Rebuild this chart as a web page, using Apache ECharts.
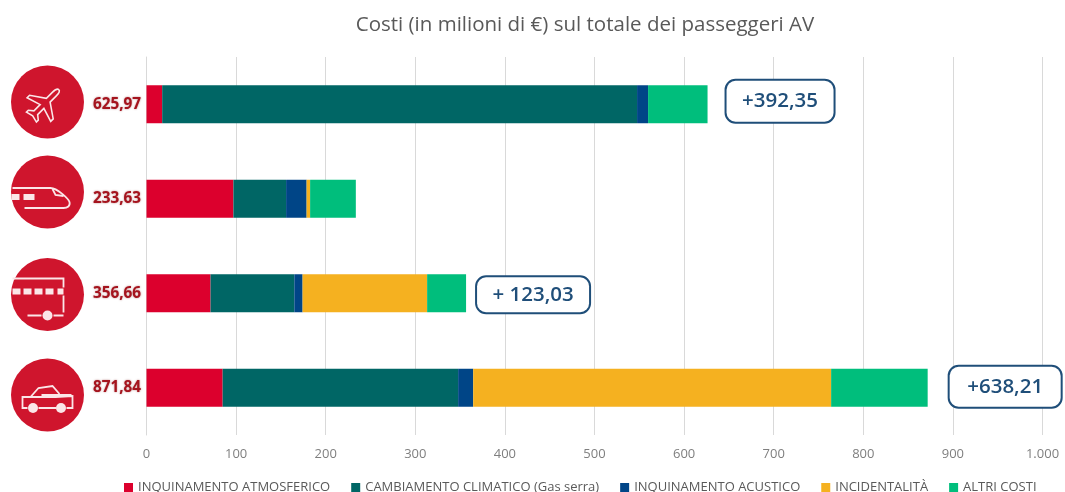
<!DOCTYPE html>
<html>
<head>
<meta charset="utf-8">
<title>Costi sul totale dei passeggeri AV</title>
<script src="https://cdn.jsdelivr.net/npm/echarts@6/dist/echarts.min.js"></script>
<style>
  html, body { margin: 0; padding: 0; background: #fff; }
  #chart { width: 1065px; height: 492px; }
</style>
</head>
<body>
<div id="chart"></div>
<script>
// order top to bottom: aereo, treno, bus, auto
const totals = ["625,97", "233,63", "356,66", "871,84"];
const atmosferico = [17.5, 97, 71.5, 85];
const climatico = [530, 58.8, 93.5, 262.8];
const acustico = [12.3, 22.9, 9.2, 16.8];
const incidentalita = [0, 3.9, 139, 399.5];
const altriCosti = [66.37, 51.03, 43.46, 107.74];
const differenze = ["+392,35", "", "+ 123,03", "+638,21"];
const xTicks = ["0", "100", "200", "300", "400", "500", "600", "700", "800", "900", "1.000"];

const font = '"Open Sans", sans-serif';
// callout boxes are hand placed in the original, so each one gets its own layout
const calloutLayout = [
  { distance: 72.5, width: 107, height: 41, offset: [0, -3] },
  null,
  { distance: 67, width: 112, height: 35, offset: [0, 1.5] },
  { distance: 77.5, width: 111, height: 40, offset: [0, -1] }
];

// white line icons, drawn around the middle of each red circle
const planeIcon = "M0,-23 C2,-23 3,-20 3,-16 L3,-6 L19,5 L19,9 L3,4 L3,14 L8,18 L8,21 L0,19 L-8,21 L-8,18 L-3,14 L-3,4 L-19,9 L-19,5 L-3,-6 L-3,-16 C-3,-20 -2,-23 0,-23 Z";
const trainIcon = "M-35,-4 L3,-4 C10,-4 21,7 22,10 C23,14 20,16 16,16 L-23,16 M5,-3 L8,3 L16,4";
const busIcon = "M-35,-16 L16,-16 L16,-7 M16,1 L16,18 M16,21 L6,21 M-6,21 L-20,21";
const carIcon = "M-9,13 L9,13 M19,13 L25,13 L25,1 L8,2 L-25,2 L-25,13 L-20,13 M-17,2 L-9,-7 L5,-9 L12,-1 M-6,0 L24,0";

const seriesNames = ["INQUINAMENTO ATMOSFERICO", "CAMBIAMENTO CLIMATICO (Gas serra)", "INQUINAMENTO ACUSTICO", "INCIDENTALITÀ", "ALTRI COSTI"];
const seriesValues = [atmosferico, climatico, acustico, incidentalita, altriCosti];
const colors = ["#dc002d", "#006665", "#004587", "#f5b120", "#00be7c"];

const series = seriesNames.map((name, i) => ({
  name: name,
  type: "bar",
  stack: "totale",
  barWidth: 38,
  itemStyle: { color: colors[i] },
  data: seriesValues[i].map((v, j) => {
    if (i !== 4 || !differenze[j]) return v;
    const box = calloutLayout[j];
    return {
      value: v,
      label: {
        show: true,
        position: "right",
        distance: box.distance,
        offset: box.offset,
        formatter: differenze[j],
        width: box.width,
        height: box.height,
        lineHeight: box.height,
        align: "center",
        fontFamily: font,
        fontSize: 20.5,
        fontWeight: 600,
        color: "#1f4e79",
        backgroundColor: "#fff",
        borderColor: "#1f4e79",
        borderWidth: 2,
        borderRadius: 9
      }
    };
  })
}));

const line = { fill: "none", stroke: "#fbe6e8", lineWidth: 1.8 };
const solid = { fill: "#fbe6e8" };
function lines(d, extra) {
  return Object.assign({ type: "path", shape: { pathData: d }, style: line }, extra || {});
}
function box(x, y, w, h) {
  return { type: "rect", shape: { x: x, y: y, width: w, height: h }, style: solid };
}
function wheel(x, y) {
  return { type: "circle", shape: { cx: x, cy: y, r: 5 }, style: solid };
}
function icon(x, y, children) {
  return {
    type: "group",
    x: x,
    y: y,
    children: [{
      type: "circle",
      shape: { cx: 0, cy: 0, r: 36.5 },
      style: { fill: "#cf152d" }
    }].concat(children)
  };
}

// the graphic component has no svg path element, a custom series does
series.push({
  type: "custom",
  coordinateSystem: "none",
  silent: true,
  data: [0],
  renderItem: () => ({
    type: "group",
    children: [
      icon(47.5, 102, [lines(planeIcon, { x: -3, y: 2, scaleX: 0.88, scaleY: 0.88, rotation: -Math.PI / 4 })]),
      icon(47.5, 192, [lines(trainIcon), box(-24, 2, 11, 6), box(-36, 2, 8, 6)]),
      icon(47.5, 294.5, [
        lines(busIcon),
        box(-35, -6, 8, 6), box(-24, -6, 8, 6), box(-13, -6, 8, 6), box(-2, -6, 8, 6), box(10, -6, 6, 6),
        wheel(0, 21)
      ]),
      icon(47.5, 395, [lines(carIcon), wheel(-14.5, 13), wheel(13.5, 13)])
    ]
  })
});

const chart = echarts.init(document.getElementById("chart"));
chart.setOption({
  animation: false,
  backgroundColor: "#fff",
  title: {
    text: "Costi (in milioni di €) sul totale dei passeggeri AV",
    left: 580,
    top: 10,
    textAlign: "center",
    textStyle: { fontFamily: font, fontSize: 20.5, fontWeight: "normal", color: "#595959" }
  },
  legend: {
    left: 119,
    top: 476,
    itemWidth: 9,
    itemHeight: 9,
    itemGap: 21,
    icon: "rect",
    data: seriesNames,
    textStyle: { fontFamily: font, fontSize: 13, color: "#595959" }
  },
  grid: { left: 146.5, right: 22.5, top: 57, bottom: 57 },
  xAxis: {
    type: "value",
    min: 0,
    max: 1000,
    interval: 100,
    axisLine: { show: false },
    axisTick: { show: false },
    axisLabel: {
      margin: 13,
      fontFamily: font,
      fontSize: 13,
      color: "#7f7f7f",
      formatter: (v) => xTicks[v / 100]
    },
    splitLine: { lineStyle: { color: "#d9d9d9", width: 1 } }
  },
  yAxis: {
    type: "category",
    inverse: true,
    data: totals,
    axisLine: { show: true, lineStyle: { color: "#d9d9d9", width: 1 } },
    axisTick: { show: false },
    axisLabel: {
      margin: 5.5,
      fontFamily: font,
      fontSize: 15.3,
      fontWeight: "bold",
      color: "#a5141e",
      textShadowColor: "rgba(120,0,0,0.5)",
      textShadowBlur: 2
    }
  },
  series: series
});
</script>
</body>
</html>
